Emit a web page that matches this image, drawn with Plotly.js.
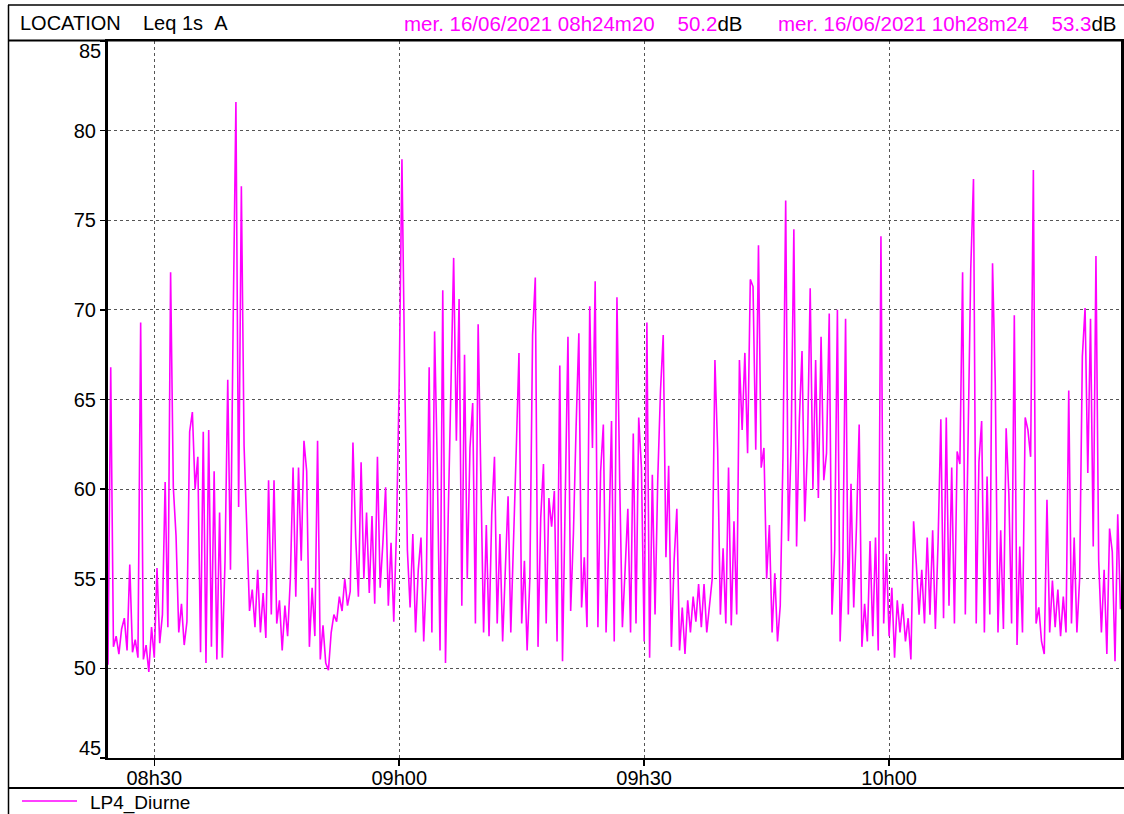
<!DOCTYPE html>
<html>
<head>
<meta charset="utf-8">
<script src="https://cdn.plot.ly/plotly-3.0.1.min.js"></script>
<style>html,body{margin:0;padding:0;background:#fff;overflow:hidden}</style>
</head>
<body>
<div id="chart" style="width:1124px;height:814px"></div>
<script>
// ---- data (Leq 1s A, one value every 20 s) ----
const seriesName = "LP4_Diurne";
const startClock = [8, 24, 20];      // 08h24m20
const endClock = [10, 28, 24];       // 10h28m24
const stepSeconds = 20;
const leqValues = [
  50.2, 66.8, 51.2, 51.8, 50.8, 52.2, 52.8, 51.0, 55.8, 50.9,
  51.6, 50.6, 69.3, 50.5, 51.3, 49.8, 52.3, 50.6, 55.6, 51.4,
  53.0, 60.4, 52.3, 72.1, 60.1, 57.4, 52.0, 53.6, 51.3, 52.6,
  63.2, 64.3, 60.0, 61.8, 50.9, 63.2, 50.3, 63.3, 51.2, 61.0,
  50.5, 58.7, 50.6, 56.0, 66.1, 55.5, 69.5, 81.6, 59.0, 76.9,
  62.4, 57.2, 53.2, 54.4, 52.3, 55.5, 52.0, 54.2, 51.7, 60.5,
  53.0, 60.5, 52.5, 53.8, 51.0, 53.5, 51.8, 55.0, 61.2, 54.0,
  61.2, 56.0, 62.7, 61.0, 51.2, 54.5, 51.8, 62.7, 50.5, 52.4,
  50.3, 49.9, 52.0, 53.0, 52.6, 54.0, 53.2, 55.0, 53.5, 54.3,
  62.6, 57.3, 54.0, 61.5, 55.0, 58.7, 54.2, 58.5, 53.6, 61.8,
  54.5, 57.0, 60.1, 53.5, 57.0, 52.6, 57.7, 66.0, 78.4, 66.5,
  56.6, 53.4, 57.5, 52.0, 55.5, 57.3, 51.5, 55.3, 66.8, 52.0,
  68.8, 61.2, 51.0, 71.1, 50.3, 58.5, 66.8, 72.9, 62.7, 70.6,
  53.5, 67.5, 55.0, 62.3, 64.8, 52.5, 69.2, 61.3, 52.0, 58.0,
  51.8, 58.6, 61.8, 52.5, 57.5, 51.5, 56.0, 59.6, 52.0, 56.5,
  62.2, 67.6, 52.5, 56.0, 51.0, 55.0, 68.6, 71.8, 51.2, 58.4,
  61.4, 52.5, 59.5, 57.9, 59.9, 51.5, 66.9, 50.4, 60.1, 68.5,
  53.2, 57.5, 63.5, 68.7, 53.4, 56.2, 52.3, 70.2, 62.3, 71.6,
  52.3, 61.0, 63.6, 52.0, 57.0, 63.8, 51.5, 70.7, 60.5, 52.3,
  55.5, 58.9, 52.0, 63.1, 52.5, 64.0, 61.2, 51.5, 69.3, 50.6,
  60.8, 53.0, 60.6, 65.5, 68.6, 56.2, 61.3, 51.2, 56.0, 58.9,
  51.0, 53.4, 50.8, 53.8, 52.0, 54.0, 52.6, 54.7, 52.3, 54.7,
  52.0, 53.5, 55.0, 67.2, 62.2, 53.0, 56.7, 52.5, 61.2, 52.4,
  58.2, 53.0, 67.2, 63.3, 67.6, 62.0, 71.7, 71.3, 62.2, 73.6,
  61.2, 62.3, 55.0, 58.0, 52.0, 55.3, 51.5, 53.5, 61.8, 76.1,
  57.1, 62.5, 74.5, 56.8, 63.8, 67.7, 58.2, 62.3, 71.2, 60.0,
  67.2, 59.5, 68.5, 60.5, 62.0, 69.8, 53.0, 56.6, 70.0, 51.5,
  56.0, 69.5, 53.0, 60.3, 53.4, 57.9, 63.6, 51.2, 53.6, 51.5,
  57.1, 51.8, 57.3, 51.0, 74.1, 52.5, 56.4, 51.8, 54.5, 50.6,
  53.8, 52.0, 53.6, 51.5, 52.8, 50.5, 58.2, 55.8, 53.0, 55.5,
  52.5, 57.3, 53.0, 57.7, 52.2, 57.1, 63.9, 52.8, 64.0, 53.5,
  61.2, 52.5, 62.1, 61.4, 72.1, 53.0, 62.0, 72.3, 77.3, 52.5,
  61.5, 63.8, 52.0, 60.7, 53.0, 72.6, 65.9, 52.0, 57.7, 52.2,
  63.4, 59.7, 52.5, 69.7, 51.3, 56.8, 52.0, 64.0, 63.3, 61.8,
  77.8, 52.5, 53.4, 51.5, 50.8, 59.4, 52.0, 54.9, 52.3, 54.4,
  51.8, 54.0, 52.0, 65.5, 52.5, 57.3, 52.0, 55.0, 67.4, 70.1,
  60.9, 69.5, 56.8, 73.0, 56.0, 52.0, 55.5, 50.8, 57.8, 56.5,
  50.4, 58.6, 53.3
];
const yTickVals = [45, 50, 55, 60, 65, 70, 75, 80, 85];
const yTickText = ["", "50", "55", "60", "65", "70", "75", "80", ""];
const xTickClock = [[8, 30, 0], [9, 0, 0], [9, 30, 0], [10, 0, 0]];
const xTickText = ["08h30", "09h00", "09h30", "10h00"];
const cursorStart = {label: "mer. 16/06/2021 08h24m20", value: "50.2"};
const cursorEnd = {label: "mer. 16/06/2021 10h28m24", value: "53.3"};

// ---- helpers ----
function pad(n) { return String(n).padStart(2, "0"); }
function clockToSec(c) { return c[0] * 3600 + c[1] * 60 + c[2]; }
function secToDate(s) {
  const h = Math.floor(s / 3600), m = Math.floor((s % 3600) / 60), sec = s % 60;
  return "2021-06-16 " + pad(h) + ":" + pad(m) + ":" + pad(sec);
}
const t0 = clockToSec(startClock);
const xTimes = leqValues.map((v, i) => secToDate(t0 + i * stepSeconds));

// layout geometry (pixels -> paper)
const W = 1124, H = 814, ML = 108, MR = 3, MT = 41, MB = 56;
const PW = W - ML - MR, PH = H - MT - MB;
const px = x => (x - ML) / PW;
const py = y => (H - MB - y) / PH;

const MAG = "#ff00ff";
const FONT = "Liberation Sans, Arial, Helvetica, sans-serif";

const trace = {
  x: xTimes,
  y: leqValues,
  type: "scatter",
  mode: "lines",
  name: seriesName,
  line: {color: MAG, width: 1.6},
  hoverinfo: "x+y"
};

const border = {type: "line", xref: "paper", yref: "paper", line: {color: "#000", width: 1.5}};
const layout = {
  width: W, height: H,
  margin: {l: ML, r: MR, t: MT, b: MB, pad: 0, autoexpand: false},
  paper_bgcolor: "#fff", plot_bgcolor: "#fff",
  font: {family: FONT, size: 20, color: "#000"},
  showlegend: false,
  xaxis: {
    type: "date",
    range: [secToDate(t0), secToDate(clockToSec(endClock))],
    tickvals: xTickClock.map(c => secToDate(clockToSec(c))),
    ticktext: xTickText,
    ticks: "outside", ticklen: 6, tickwidth: 1.5, tickcolor: "#000",
    ticklabelstandoff: -5,
    showgrid: true, gridcolor: "#555", gridwidth: 1, griddash: "dot",
    showline: true, linecolor: "#000", linewidth: 2, mirror: true,
    zeroline: false,
    tickfont: {family: FONT, size: 20, color: "#000"},
    fixedrange: true
  },
  yaxis: {
    range: [45, 85],
    tickvals: yTickVals,
    ticktext: yTickText,
    ticks: "outside", ticklen: 5, tickwidth: 1.5, tickcolor: "#000",
    showgrid: true, gridcolor: "#555", gridwidth: 1, griddash: "dot",
    showline: true, linecolor: "#000", linewidth: 3, mirror: true,
    zeroline: false,
    tickfont: {family: FONT, size: 20, color: "#000"},
    fixedrange: true
  },
  shapes: [
    Object.assign({}, border, {x0: px(8), x1: px(1124), y0: py(5), y1: py(5)}),
    Object.assign({}, border, {x0: px(8), x1: px(1124), y0: py(40.5), y1: py(40.5), line: {color: "#000", width: 2}}),
    Object.assign({}, border, {x0: px(8.5), x1: px(8.5), y0: py(5), y1: py(814)}),
    Object.assign({}, border, {x0: px(8), x1: px(1124), y0: py(788), y1: py(788), line: {color: "#000", width: 2}}),
    // legend sample line
    {type: "line", xref: "paper", yref: "paper", x0: px(22), x1: px(77), y0: py(801), y1: py(801),
     line: {color: MAG, width: 1.6}}
  ],
  annotations: [
    {xref: "paper", yref: "paper", x: px(18), y: py(23), xanchor: "left", yanchor: "middle",
     showarrow: false, text: "LOCATION&nbsp;&nbsp;&nbsp;&nbsp;Leq 1s&nbsp;&nbsp;A",
     font: {family: FONT, size: 20, color: "#000"}},
    {xref: "paper", yref: "paper", x: px(745), y: py(23), xanchor: "right", yanchor: "middle",
     showarrow: false,
     text: '<span style="color:' + MAG + '">' + cursorStart.label + '&nbsp;&nbsp;&nbsp;&nbsp;' + cursorStart.value + '</span>dB',
     font: {family: FONT, size: 20.5, color: "#000"}},
    {xref: "paper", yref: "paper", x: px(1119), y: py(23), xanchor: "right", yanchor: "middle",
     showarrow: false,
     text: '<span style="color:' + MAG + '">' + cursorEnd.label + '&nbsp;&nbsp;&nbsp;&nbsp;' + cursorEnd.value + '</span>dB',
     font: {family: FONT, size: 20.5, color: "#000"}},
    {xref: "paper", yref: "paper", x: px(103), y: py(51), xanchor: "right", yanchor: "middle",
     showarrow: false, text: "85", font: {family: FONT, size: 20, color: "#000"}},
    {xref: "paper", yref: "paper", x: px(103), y: py(748), xanchor: "right", yanchor: "middle",
     showarrow: false, text: "45", font: {family: FONT, size: 20, color: "#000"}},
    // legend text
    {xref: "paper", yref: "paper", x: px(88), y: py(803), xanchor: "left", yanchor: "middle",
     showarrow: false, text: seriesName, font: {family: FONT, size: 19, color: "#000"}}
  ]
};

Plotly.newPlot("chart", [trace], layout, {displayModeBar: false, staticPlot: true});
</script>
</body>
</html>
